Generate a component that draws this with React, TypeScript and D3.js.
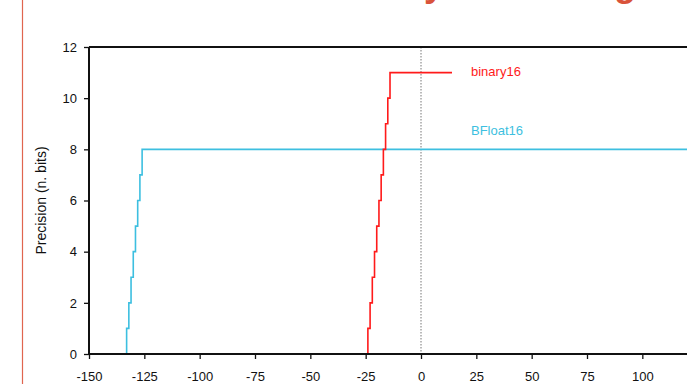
import React, { useEffect, useRef } from "react";
import * as d3 from "d3";

// ---- data ----
const binary16Exponent = [-24, -24, -23, -22, -21, -20, -19, -18, -17, -16, -15, -14, 14];
const binary16Precision = [0, 1, 2, 3, 4, 5, 6, 7, 8, 9, 10, 11, 11];
const bfloat16Exponent = [-133, -133, -132, -131, -130, -129, -128, -127, -126, 150];
const bfloat16Precision = [0, 1, 2, 3, 4, 5, 6, 7, 8, 8];
const xTicks = [-150, -125, -100, -75, -50, -25, 0, 25, 50, 75, 100];
const yTicks = [0, 2, 4, 6, 8, 10, 12];
const seriesNames = ["binary16", "BFloat16"];
const titleText = "dynamic range";
const yLabel = "Precision (n. bits)";

const W = 687;
const H = 384;
const RED = "#ff1a1a";
const BLUE = "#3dbfe0";
const FONT = "'Liberation Sans', Arial, Helvetica, sans-serif";

export default function App() {
  const ref = useRef<SVGSVGElement>(null);

  useEffect(() => {
    const svg = d3.select(ref.current);
    svg.selectAll("*").remove();

    const x = d3.scaleLinear().domain([-150, 150]).range([89, 753]);
    const y = d3.scaleLinear().domain([0, 12]).range([354, 47]);

    // slide decoration
    svg.append("line").attr("x1", 22.5).attr("x2", 22.5).attr("y1", 0).attr("y2", H)
      .attr("stroke", "#e0654f").attr("stroke-width", 1.2);
    svg.append("text").attr("x", 402).attr("y", -4)
      .attr("font-family", FONT).attr("font-weight", "bold").attr("font-size", 36)
      .attr("fill", "#d9533a").text(titleText);

    // zero line
    svg.append("line").attr("x1", x(0)).attr("x2", x(0)).attr("y1", y(12)).attr("y2", y(0))
      .attr("stroke", "#777").attr("stroke-width", 1).attr("stroke-dasharray", "1.5,1.5");

    const line = d3.line<[number, number]>()
      .x(d => x(d[0])).y(d => y(d[1])).curve(d3.curveStepAfter);

    const bf = bfloat16Exponent.map((e, i) => [e, bfloat16Precision[i]] as [number, number]);
    const b16 = binary16Exponent.map((e, i) => [e, binary16Precision[i]] as [number, number]);

    svg.append("path").attr("d", line(bf)).attr("fill", "none")
      .attr("stroke", BLUE).attr("stroke-width", 1.6);
    svg.append("path").attr("d", line(b16)).attr("fill", "none")
      .attr("stroke", RED).attr("stroke-width", 1.6);

    // frame
    const frame = svg.append("g").attr("stroke", "#111").attr("stroke-width", 2);
    frame.append("line").attr("x1", x(-150)).attr("x2", x(150)).attr("y1", y(12)).attr("y2", y(12));
    frame.append("line").attr("x1", x(-150)).attr("x2", x(150)).attr("y1", y(0)).attr("y2", y(0));
    frame.append("line").attr("x1", x(-150)).attr("x2", x(-150)).attr("y1", y(12)).attr("y2", y(0));
    frame.append("line").attr("x1", x(150)).attr("x2", x(150)).attr("y1", y(12)).attr("y2", y(0));

    // axes
    const xAxis = svg.append("g").attr("transform", `translate(0,${y(0)})`)
      .call(d3.axisBottom(x).tickValues(xTicks).tickSize(5).tickPadding(13).tickFormat(d3.format("d")));
    const yAxis = svg.append("g").attr("transform", `translate(${x(-150)},0)`)
      .call(d3.axisLeft(y).tickValues(yTicks).tickSize(5).tickPadding(7).tickFormat(d3.format("d")));
    [xAxis, yAxis].forEach(a => {
      a.select(".domain").remove();
      a.selectAll("line").attr("stroke", "#111").attr("stroke-width", 1.3);
      a.selectAll("text").attr("font-family", FONT).attr("font-size", 13).attr("fill", "#111");
    });
    xAxis.selectAll("text").text((d: any) => (d < 0 ? "-" + Math.abs(d) : String(d)));

    // y label
    svg.append("text")
      .attr("transform", `translate(46,${(y(0) + y(12)) / 2}) rotate(-90)`)
      .attr("text-anchor", "middle").attr("font-family", FONT).attr("font-size", 14)
      .attr("fill", "#111").text(yLabel);

    // series labels
    svg.append("text").attr("x", 471).attr("y", 76).attr("font-family", FONT)
      .attr("font-size", 13).attr("fill", RED).text(seriesNames[0]);
    svg.append("text").attr("x", 471).attr("y", 135).attr("font-family", FONT)
      .attr("font-size", 13).attr("fill", BLUE).text(seriesNames[1]);
  }, []);

  return (
    <svg ref={ref} width={W} height={H}
      style={{ position: "absolute", left: 0, top: 0, background: "#fff", overflow: "hidden" }} />
  );
}
